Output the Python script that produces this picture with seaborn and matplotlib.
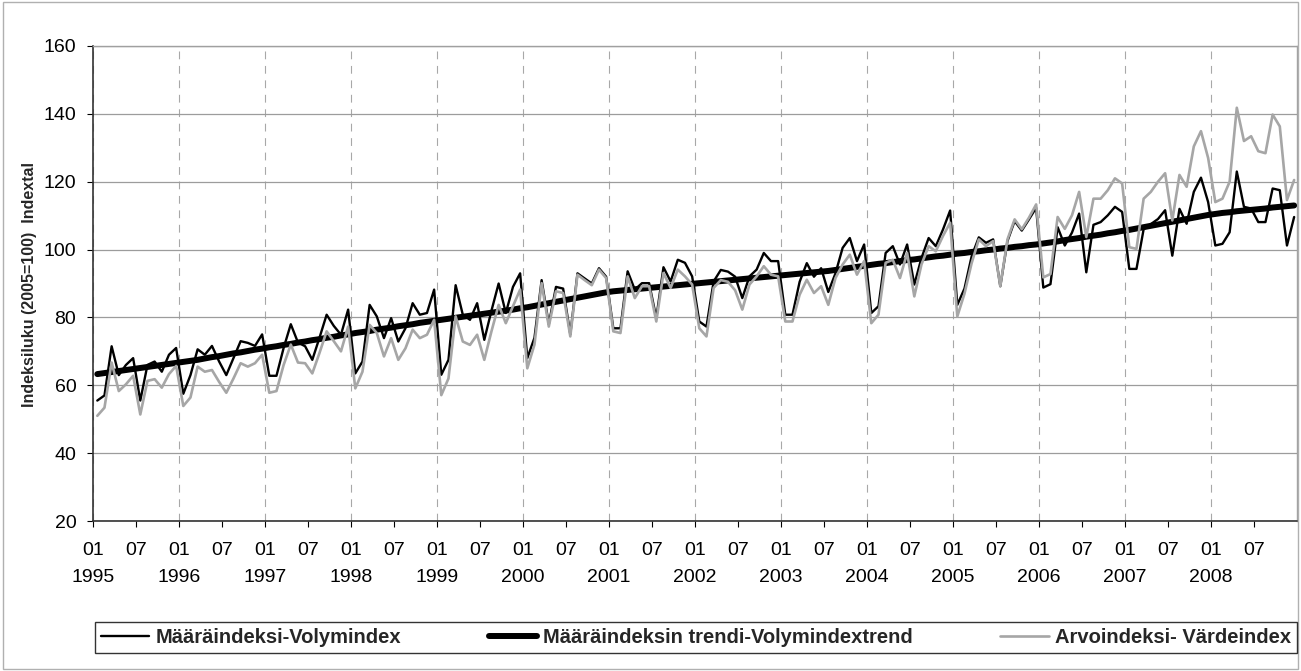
import matplotlib.pyplot as plt
import numpy as np
import pandas as pd
import seaborn as sns
from matplotlib.patches import Rectangle

# Monthly series 01/1995 - 12/2008, one row per year
YEARS = list(range(1995, 2009))

VOLUME = [
    55.5, 57, 71.5, 63, 66, 68, 55.5, 66, 67, 64, 69, 71,
    57.5, 63, 70.6, 69, 71.6, 67, 63, 68, 73, 72.5, 71.6, 75,
    62.8, 62.8, 71, 78, 72.6, 71.5, 67.5, 74, 80.8, 77.5, 74.9, 82.3,
    63.5, 67, 83.7, 80.3, 73.9, 79.8, 72.9, 76.8, 84.2, 80.8, 81.3, 88.2,
    63.1, 67.5, 89.5, 80.8, 79.3, 84.2, 73.4, 82, 90, 81.3, 89, 93,
    68, 74, 91, 78, 89, 88.5, 75, 93, 91.5, 90, 94.5, 92,
    76.8, 76.8, 93.6, 88.2, 90.1, 90.1, 79.8, 94.8, 90.6, 97, 96.1, 92.1,
    78.8, 77.3, 90.6, 94, 93.5, 92, 85.7, 92.1, 94.1, 99, 96.6, 96.6,
    80.8, 80.8, 90.5, 96, 92, 94.5, 87.5, 93, 100.5, 103.4, 96.6, 101.5,
    81.3, 83.3, 99, 101, 95.6, 101.5, 89.7, 97.5, 103.4, 101, 105.9, 111.5,
    83.7, 88.5, 98, 103.6, 102, 103, 89.2, 102.5, 108.4, 105.6, 108.9, 112.3,
    88.8, 89.8, 106.6, 101.2, 105, 110.6, 93.3, 107.3, 108.1, 110.1, 112.6, 111.1,
    94.3, 94.3, 106, 107.5, 109, 111.6, 98.2, 112, 107.6, 117, 121.2, 114,
    101.2, 101.7, 105.1, 123, 112.6, 112.1, 108.1, 108.1, 118, 117.5, 101.2, 109.6,
]

TREND = [
    63.3, 63.6, 63.9, 64.2, 64.5, 64.8, 65.1, 65.4, 65.7, 66.0, 66.3, 66.6,
    66.9, 67.2, 67.5, 67.9, 68.3, 68.6, 69.0, 69.4, 69.7, 70.1, 70.5, 70.8,
    71.2, 71.5, 71.9, 72.2, 72.6, 72.9, 73.3, 73.6, 74.0, 74.3, 74.7, 75.0,
    75.4, 75.7, 76.0, 76.4, 76.7, 77.0, 77.4, 77.7, 78.0, 78.4, 78.7, 79.0,
    79.3, 79.6, 79.9, 80.2, 80.5, 80.8, 81.1, 81.4, 81.7, 82.0, 82.3, 82.7,
    83.0, 83.4, 83.8, 84.2, 84.6, 85.0, 85.4, 85.8, 86.2, 86.6, 87.0, 87.4,
    87.7, 87.9, 88.1, 88.3, 88.5, 88.7, 88.9, 89.1, 89.3, 89.5, 89.7, 89.9,
    90.1, 90.3, 90.5, 90.7, 90.9, 91.1, 91.3, 91.5, 91.7, 91.9, 92.1, 92.3,
    92.5, 92.7, 92.9, 93.1, 93.3, 93.5, 93.7, 94.0, 94.3, 94.6, 94.9, 95.2,
    95.5, 95.8, 96.0, 96.3, 96.6, 96.9, 97.1, 97.4, 97.7, 98.0, 98.2, 98.5,
    98.8, 99.0, 99.3, 99.5, 99.8, 100.0, 100.3, 100.5, 100.8, 101.0, 101.3, 101.5,
    101.8, 102.1, 102.4, 102.8, 103.1, 103.4, 103.8, 104.1, 104.4, 104.8, 105.1, 105.5,
    105.8, 106.2, 106.6, 107.0, 107.4, 107.8, 108.2, 108.6, 109.0, 109.4, 109.8, 110.2,
    110.5, 110.8, 111.0, 111.3, 111.5, 111.7, 111.9, 112.1, 112.4, 112.6, 112.8, 113.0,
]

VALUE = [
    51, 53.4, 66.7, 58.3, 60.3, 62.8, 51.4, 61.3, 61.8, 59.3, 63.3, 65.7,
    53.9, 56.4, 65.5, 64, 64.5, 61, 57.8, 62, 66.5, 65.5, 66.5, 69,
    57.8, 58.3, 66, 72, 66.7, 66.5, 63.5, 69.5, 75.9, 73, 70, 77.3,
    59.1, 64, 77.8, 75.4, 68.5, 73.9, 67.5, 70.9, 76.4, 73.9, 74.9, 79.3,
    57.1, 62, 80.3, 72.9, 71.9, 74.9, 67.5, 75.9, 83.7, 78.3, 83.3, 88.2,
    65, 72, 90.1, 77.3, 87.7, 87.2, 74.4, 92.6, 91, 89.5, 94.1, 91.6,
    75.9, 75.4, 92.1, 85.7, 89.2, 89.2, 78.8, 93.1, 88.7, 94.1, 92.1, 89.7,
    76.8, 74.4, 88.7, 91, 90.5, 88, 82.3, 89.7, 92.1, 95.1, 92.6, 92.1,
    78.8, 78.8, 86.7, 91.1, 87.2, 89.2, 83.7, 91.6, 95.6, 98.5, 92.6, 96.6,
    78.3, 80.8, 96.1, 97, 91.6, 99, 86.2, 95.6, 101, 99.5, 104, 107.9,
    80.3, 87, 96, 103, 101, 102.5, 89.2, 103, 108.9, 106, 109.4, 113.3,
    91.8, 92.8, 109.6, 106.1, 110.1, 117, 103.7, 115, 115, 117.5, 121, 119.5,
    100.7, 100.2, 115, 117, 120, 122.5, 108.6, 122, 118.5, 130.4, 134.9, 127,
    114, 115, 120, 141.8, 132, 133.4, 129, 128.4, 139.8, 136.3, 114.6, 120.5,
]

LABEL_VOLUME = "Määräindeksi-Volymindex"
LABEL_TREND = "Määräindeksin trendi-Volymindextrend"
LABEL_VALUE = "Arvoindeksi- Värdeindex"
Y_LABEL = "Indeksiluku (2005=100)  Indextal"

sns.set_style("white")
plt.rcParams["font.family"] = ["Liberation Sans", "DejaVu Sans"]

df = pd.DataFrame({
    "month": np.arange(len(VOLUME)) + 0.6,
    "volume": VOLUME,
    "trend": TREND,
    "value": VALUE,
})

W, H = 1301, 671
fig = plt.figure(figsize=(W / 100, H / 100), dpi=100)
ax = fig.add_axes([93 / W, 1 - 521 / H, (1297 - 93) / W, (521 - 46) / H])

sns.lineplot(data=df, x="month", y="volume", color="black", linewidth=1.7,
             label=LABEL_VOLUME, ax=ax, zorder=3)
sns.lineplot(data=df, x="month", y="trend", color="black", linewidth=4.3,
             label=LABEL_TREND, ax=ax, zorder=4)
sns.lineplot(data=df, x="month", y="value", color="#a6a6a6", linewidth=1.9,
             label=LABEL_VALUE, ax=ax, zorder=5)

ax.set_xlim(0, 12 * len(YEARS))
ax.set_ylim(20, 160)
ax.set_yticks(range(20, 161, 20))

ax.set_xticks(np.arange(0, 12 * len(YEARS), 12))
ax.set_xticklabels([f"01\n{y}" for y in YEARS])
ax.set_xticks(np.arange(6, 12 * len(YEARS), 12), minor=True)
ax.set_xticklabels(["07"] * len(YEARS), minor=True)
for lbl in ax.get_xticklabels():
    lbl.set_linespacing(1.75)

ax.yaxis.grid(True, color="#9c9c9c", linewidth=0.9)
ax.xaxis.grid(True, which="major", color="#a8a8a8", linewidth=0.8, linestyle=(0, (7, 6)))
ax.set_axisbelow(True)

ax.tick_params(axis="both", which="both", labelsize=14, colors="black",
               direction="out", length=4, width=0.8)
ax.tick_params(axis="x", which="both", pad=11, bottom=True)
ax.tick_params(axis="y", pad=8, left=True)

ax.set_xlabel("")
ax.set_ylabel("")
for side in ["left", "bottom"]:
    ax.spines[side].set_color("#333333")
    ax.spines[side].set_linewidth(1.2)
for side in ["top", "right"]:
    ax.spines[side].set_color("#a0a0a0")
    ax.spines[side].set_linewidth(1.0)

fig.text(30 / W, 1 - 285 / H, Y_LABEL, rotation=90, ha="center", va="center",
         fontsize=11.5, fontweight="bold")

handles, labels = ax.get_legend_handles_labels()
ax.get_legend().remove()
leg = fig.legend(handles, labels, loc="lower left",
                 bbox_to_anchor=(95 / W, 1 - 653 / H, (1297 - 95) / W, 35 / H),
                 mode="expand", ncol=3, frameon=True, fancybox=False, edgecolor="black",
                 prop={"weight": "bold", "size": 14.5}, handlelength=2.4,
                 handletextpad=0.3, columnspacing=0.6, borderpad=0.3,
                 borderaxespad=0)
leg.get_frame().set_linewidth(1.0)

fig.patches.append(Rectangle((0.002, 0.003), 0.996, 0.994, transform=fig.transFigure,
                             fill=False, edgecolor="#b0b0b0", linewidth=1.0))

fig.savefig("out.png", dpi=100)
